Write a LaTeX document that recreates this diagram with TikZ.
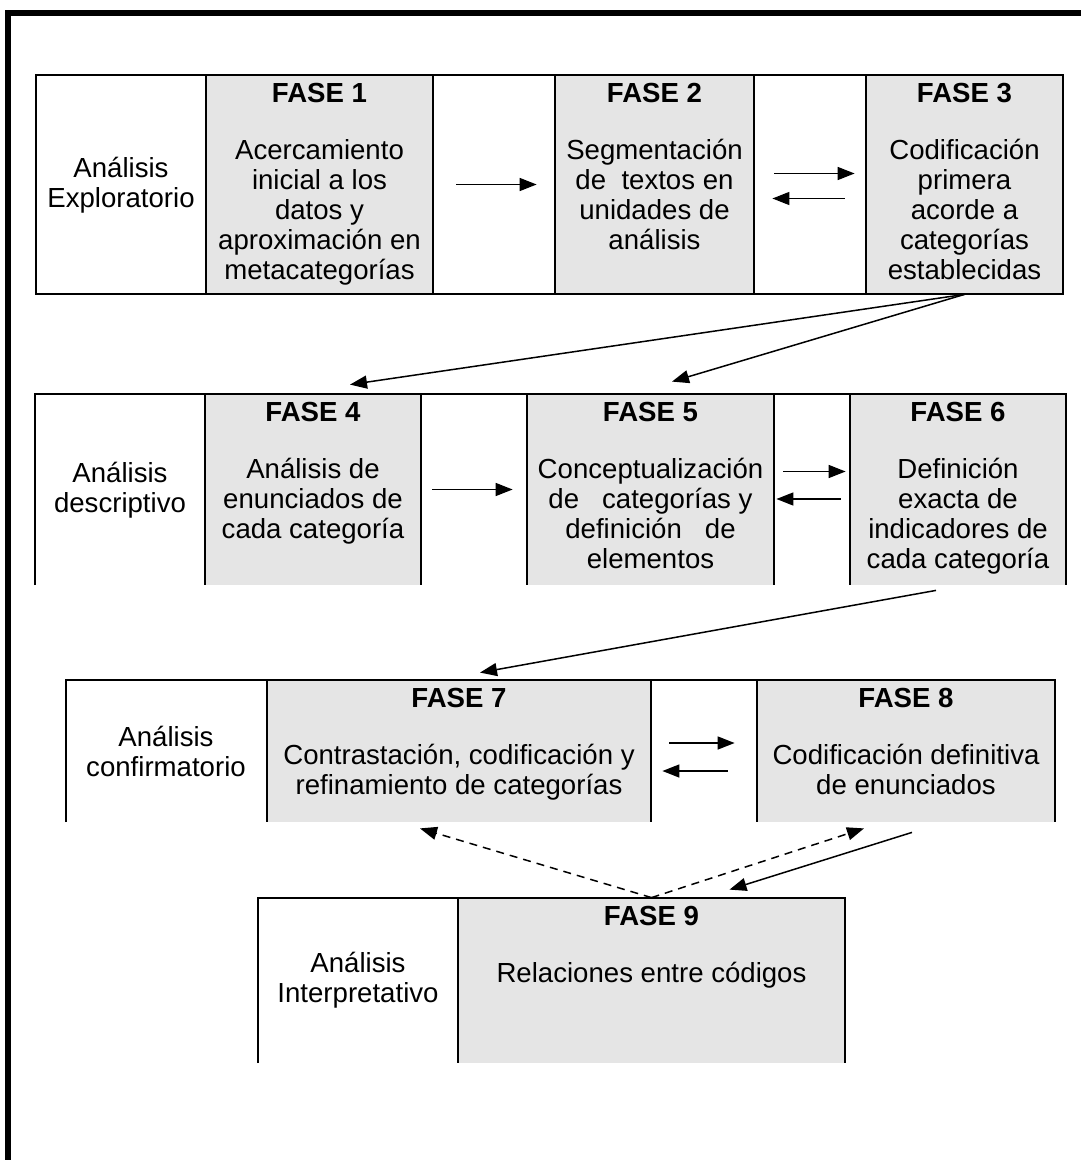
\documentclass[tikz,border=0pt]{standalone}
\usepackage{fontspec}
\setmainfont{Liberation Sans}
\usetikzlibrary{arrows.meta,fit}

\tikzset{
    fase cell/.style={
        fill=black!10,inner sep=0pt,draw=none
    },
    fase text/.style={
        anchor=north,align=center,
        inner xsep=0pt,inner ysep=4pt,
        font=\fontsize{13.8}{15}\selectfont
    },
    etapa/.style={
        align=center,inner sep=0pt,
        font=\fontsize{13.8}{15}\selectfont
    },
    grid line/.style={line width=1pt},
    flecha/.style={
        line width=.75pt,
        -{Triangle[length=8.5pt,width=6.5pt]}
    }
}

\begin{document}
\begin{tikzpicture}[x=.5pt,y=-.5pt]
    \useasboundingbox (0,0) rectangle (1080,1160);
    \draw[line width=2.8pt] (1085,13) -- (8,13) -- (8,1165);
    % gray cells of the phases
    \foreach \name/\l/\t/\r/\b in {f1/206/75/433/294,f2/555/75/754/294,f3/866/75/1063/294,
            f4/205/394/421/585,f5/527/394/774/585,f6/850/394/1066/585,
            f7/267/680/651/822,f8/757/680/1055/822,f9/458/898/845/1063}
        \node[fase cell,fit={(\l,\t) (\r,\b)}] (\name) {};
    % table lines
    \draw[grid line] (36,75) rectangle (1063,294);
    \foreach \x in {206,433,555,754,866}
        \draw[grid line] (\x,75) -- (\x,294);
    \draw[grid line] (35,585) -- (35,394) -- (1066,394) -- (1066,585);
    \foreach \x in {205,421,527,774,850}
        \draw[grid line] (\x,394) -- (\x,585);
    \draw[grid line] (66,822) -- (66,680) -- (1055,680) -- (1055,822);
    \foreach \x in {267,651,757}
        \draw[grid line] (\x,680) -- (\x,822);
    \draw[grid line] (258,1063) -- (258,898) -- (845,898) -- (845,1063);
    \draw[grid line] (458,898) -- (458,1063);
    % stages
    \foreach \name/\x/\y/\txt in {e1/121/185/Exploratorio,e2/120/490/descriptivo,
            e3/166/751/confirmatorio,e4/358/980/Interpretativo}
        \node[etapa] (\name) at (\x,\y) {Análisis\\\txt};
    % phases
    \foreach \i/\txt in {1/{Acercamiento\\inicial a los\\datos y\\aproximación en\\metacategorías},
            2/{Segmentación\\de~ textos en\\unidades de\\análisis},
            3/{Codificación\\primera\\acorde a\\categorías\\establecidas},
            4/{Análisis de\\enunciados de\\cada categoría},
            5/{Conceptualización\\de~~ categorías y\\definición~~ de\\elementos},
            6/{Definición\\exacta de\\indicadores de\\cada categoría},
            7/{Contrastación, codificación y\\refinamiento de categorías},
            8/{Codificación definitiva\\de enunciados},
            9/{Relaciones entre códigos}}
        \node[fase text] (t\i) at (f\i.north) {\textbf{FASE \i}\\[13.5pt]\txt};
    % arrows
    \draw[flecha,shorten <=11.5pt,shorten >=9pt] (f1) -- (f2);
    \draw[flecha,shorten <=10pt,shorten >=5.5pt] ([yshift=5.5pt]f2.east) -- ([yshift=5.5pt]f3.west);
    \draw[flecha,shorten <=10.5pt,shorten >=9pt] ([yshift=-7pt]f3.west) -- ([yshift=-7pt]f2.east);
    \draw[flecha,shorten <=5.5pt,shorten >=7pt] (f4) -- (f5);
    \draw[flecha,shorten <=4.5pt,shorten >=2pt] ([yshift=9pt]f5.east) -- ([yshift=9pt]f6.west);
    \draw[flecha,shorten <=4.5pt,shorten >=1pt] ([yshift=-4.75pt]f6.west) -- ([yshift=-4.75pt]f5.east);
    \draw[flecha,shorten <=9pt,shorten >=11pt] ([yshift=4pt]f7.east) -- ([yshift=4pt]f8.west);
    \draw[flecha,shorten <=14.5pt,shorten >=5.5pt] ([yshift=-10pt]f8.west) -- ([yshift=-10pt]f7.east);
    \draw[flecha] (f3.south) -- ([xshift=18.5pt,yshift=4.5pt]f4.north);
    \draw[flecha] (f3.south) -- ([xshift=10.75pt,yshift=6pt]f5.north);
    \draw[flecha] ([xshift=-11pt,yshift=-2.5pt]f6.south) -- ([xshift=10.5pt,yshift=3.5pt]f7.north);
    \draw[flecha] ([xshift=3pt,yshift=-5pt]f8.south) -- ([xshift=39pt,yshift=4pt]f9.north);
    \draw[flecha,dash pattern=on 4pt off 3pt] (f9.north) -- ([xshift=-19.5pt,yshift=-3pt]f7.south);
    \draw[flecha,dash pattern=on 4pt off 3pt] (f9.north) -- ([xshift=-21pt,yshift=-3pt]f8.south);
\end{tikzpicture}
\end{document}
